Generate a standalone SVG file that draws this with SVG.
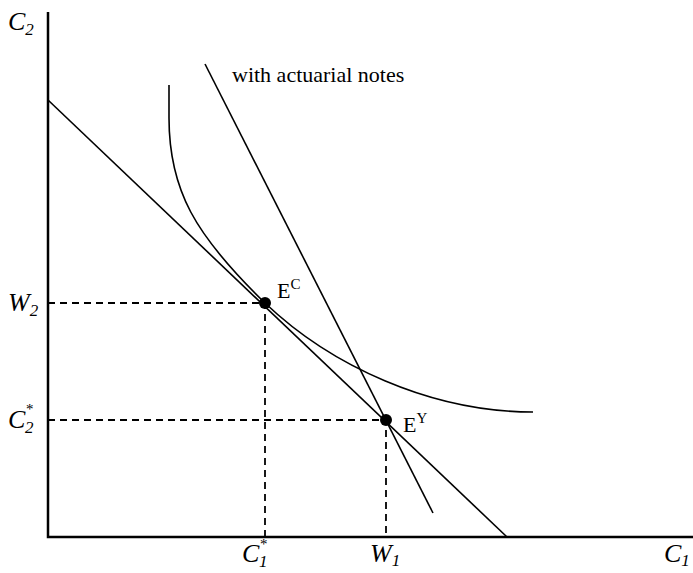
<svg xmlns="http://www.w3.org/2000/svg" width="693" height="573" viewBox="0 0 693 573">
<style>
.ax{stroke:#000;stroke-width:2.5;fill:none}
.ln{stroke:#000;stroke-width:1.6;fill:none}
.ds{stroke:#000;stroke-width:1.8;stroke-dasharray:7,5;fill:none}
text{font-family:'Liberation Serif','Times New Roman','DejaVu Serif',serif;fill:#000}
.t{font-size:22px}
.it{font-style:italic;font-size:26px}
.sb{font-style:italic;font-size:17px}
.st{font-style:italic;font-size:15px}
</style>
<rect width="693" height="573" fill="#fff"/>
<g id="axes">
<path class="ax" d="M48,12 L48,537 L693,537"/>
</g>
<g id="connectors">
<path class="ds" d="M48,303 L265,303 L265,537"/>
<path class="ds" d="M48,420 L386,420 L386,537"/>
<path class="ln" d="M48,100 L507,537"/>
<path class="ln" d="M205,64 L433,513"/>
<path class="ln" d="M169,85 L169,118 C169,190 195,235 265,303 C330,365 430,412 533,412"/>
</g>
<g id="EC">
<circle cx="265" cy="303" r="6" fill="#000"/>
<text class="t" x="277" y="298" font-size="24">E<tspan font-size="15" dy="-9">C</tspan></text>
</g>
<g id="EY">
<circle cx="386" cy="420" r="6" fill="#000"/>
<text class="t" x="403" y="432" font-size="24">E<tspan font-size="15" dy="-9">Y</tspan></text>
</g>
<g id="title">
<text class="t" x="232" y="82">with actuarial notes</text>
</g>
<g id="labels">
<text class="it" x="8" y="30">C<tspan class="sb" dy="5">2</tspan></text>
<text class="it" x="8" y="311">W<tspan class="sb" dy="5">2</tspan></text>
<text class="it" x="8" y="428">C<tspan class="st" dy="-14">*</tspan></text>
<text class="sb" x="25" y="433">2</text>
<text class="it" x="242" y="562">C<tspan class="st" dy="-13">*</tspan></text>
<text class="sb" x="259" y="567">1</text>
<text class="it" x="370" y="562">W<tspan class="sb" dy="4">1</tspan></text>
<text class="it" x="664" y="562">C<tspan class="sb" dy="4">1</tspan></text>
</g>
</svg>
